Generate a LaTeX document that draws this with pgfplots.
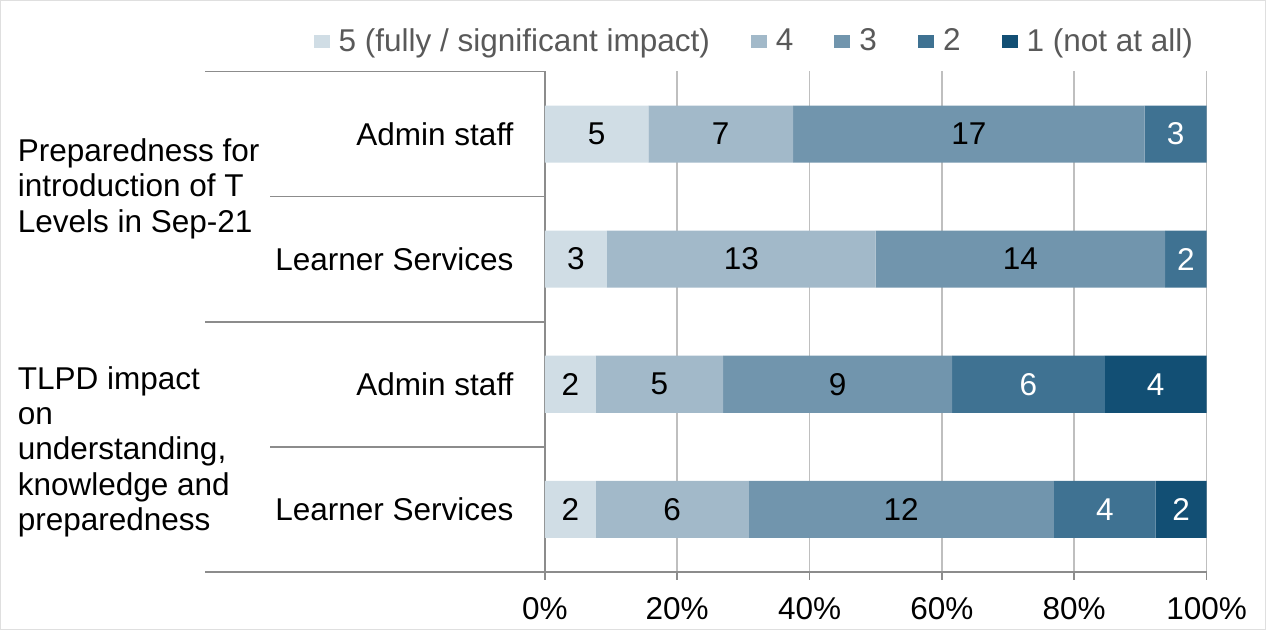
\documentclass[border=0pt]{standalone}
\usepackage{fontspec}
\setmainfont{Liberation Sans}
\usepackage{pgfplots}
\pgfplotsset{compat=1.18}
\usepackage{pgfplotstable}

\definecolor{c5}{HTML}{D0DDE5}
\definecolor{c4}{HTML}{A2B9C9}
\definecolor{c3}{HTML}{7195AD}
\definecolor{c2}{HTML}{3F7292}
\definecolor{c1}{HTML}{124F74}
\definecolor{gridgray}{HTML}{BFBFBF}
\definecolor{axisgray}{HTML}{8C8C8C}
\definecolor{legtext}{HTML}{595959}

\newcommand{\chartfont}{\fontsize{15.8}{17.75}\selectfont}

% counts per rating, cat 3 = top bar
\pgfplotstableread{
cat v5 v4 v3 v2 v1 total
3 5 7 17 3 0 32
2 3 13 14 2 0 32
1 2 5 9 6 4 26
0 2 6 12 4 2 26
}\resp

\pgfplotsset{
  frame/.style={
    width=330.5bp, height=250bp, scale only axis,
    at={(272.5bp,29bp)}, anchor=south west,
    xmin=0, xmax=100, ymin=-0.5, ymax=3.5,
    /pgf/number format/assume math mode=true,
  },
  swatch/.style={legend image code/.code={\fill[#1] (0bp,-3.25bp) rectangle (8bp,3.25bp);}},
}
\tikzset{
  sub/.style={font=\chartfont, inner sep=0pt, anchor=east, xshift=-15.5bp},
  sep/.style={axisgray, line width=0.8bp},
}

\begin{document}
\begin{tikzpicture}
\draw[gray!25] (0.5bp,0.5bp) rectangle (632.5bp,314.5bp);
\begin{axis}[frame,
  xbar stacked, bar width=28.5bp,
  axis x line*=bottom, axis y line*=left,
  axis line style={axisgray, line width=0.8bp},
  xtick={0,20,...,100}, xticklabels={0\%,20\%,40\%,60\%,80\%,100\%},
  ytick=\empty,
  xmajorgrids, grid style={gridgray, line width=0.8bp},
  tick style={axisgray, line width=0.8bp}, xtick align=outside, major tick length=4bp,
  tick label style={font=\chartfont},
  xticklabel style={anchor=north, inner sep=0pt, yshift=-8.5bp},
  clip=false,
  legend columns=5,
  legend style={draw=none, fill=none, font=\chartfont, text=legtext,
     at={(axis description cs:0.318,1.06)}, anchor=center,
     /tikz/every odd column/.append style={column sep=2.5bp},
     /tikz/every even column/.append style={column sep=18.5bp}},
]
\addplot[fill=c5, draw=none, swatch=c5] table[y=cat, x expr=\thisrow{v5}/\thisrow{total}*100] {\resp};
\addplot[fill=c4, draw=none, swatch=c4] table[y=cat, x expr=\thisrow{v4}/\thisrow{total}*100] {\resp};
\addplot[fill=c3, draw=none, swatch=c3] table[y=cat, x expr=\thisrow{v3}/\thisrow{total}*100] {\resp};
\addplot[fill=c2, draw=none, swatch=c2] table[y=cat, x expr=\thisrow{v2}/\thisrow{total}*100] {\resp};
\addplot[fill=c1, draw=none, swatch=c1] table[y=cat, x expr=\thisrow{v1}/\thisrow{total}*100] {\resp};
\legend{5 (fully / significant impact),4,3,2,1 (not at all)}

% category separators
\draw[sep] (axis cs:0,3.5) -- ++(-170bp,0pt);
\draw[sep] (axis cs:0,1.5) -- ++(-170bp,0pt);
\draw[sep] (axis cs:0,-0.5) -- ++(-170bp,0pt);
\draw[sep] (axis cs:0,2.5) -- ++(-137.5bp,0pt);
\draw[sep] (axis cs:0,0.5) -- ++(-137.5bp,0pt);

\node[sub] at (axis cs:0,3) {Admin staff};
\node[sub] at (axis cs:0,2) {Learner Services};
\node[sub] at (axis cs:0,1) {Admin staff};
\node[sub] at (axis cs:0,0) {Learner Services};
\end{axis}

% value labels, centred on each segment
\begin{axis}[frame, hide axis, nodes near coords, point meta=explicit,
  every node near coord/.append style={font=\chartfont, inner sep=0pt, anchor=center}]
\addplot[draw=none, black] table[y=cat, meta=v5,
  x expr=(0.5*\thisrow{v5})/\thisrow{total}*100] {\resp};
\addplot[draw=none, black] table[y=cat, meta=v4,
  x expr=(\thisrow{v5}+0.5*\thisrow{v4})/\thisrow{total}*100] {\resp};
\addplot[draw=none, black] table[y=cat, meta=v3,
  x expr=(\thisrow{v5}+\thisrow{v4}+0.5*\thisrow{v3})/\thisrow{total}*100] {\resp};
\addplot[draw=none, white] table[y=cat, meta=v2,
  x expr=(\thisrow{v5}+\thisrow{v4}+\thisrow{v3}+0.5*\thisrow{v2})/\thisrow{total}*100] {\resp};
\addplot[draw=none, white, skip coords between index={0}{2}] table[y=cat, meta=v1,
  x expr=(\thisrow{v5}+\thisrow{v4}+\thisrow{v3}+\thisrow{v2}+0.5*\thisrow{v1})/\thisrow{total}*100] {\resp};
\end{axis}

\node[font=\chartfont, inner sep=0pt, anchor=west, align=left] at (9bp,220.5bp)
  {Preparedness for\\introduction of T\\Levels in Sep-21};
\node[font=\chartfont, inner sep=0pt, anchor=west, align=left] at (9bp,89bp)
  {TLPD impact\\on\\understanding,\\knowledge and\\preparedness};
\end{tikzpicture}
\end{document}
